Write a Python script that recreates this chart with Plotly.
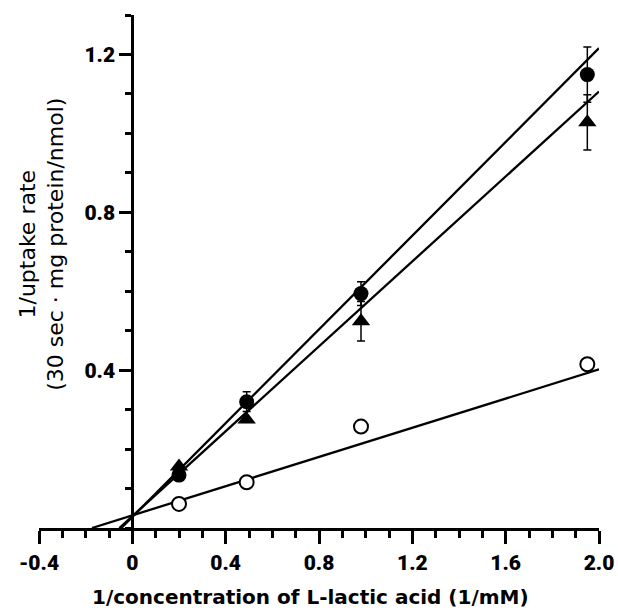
import plotly.graph_objects as go

# ---- data ----
x_conc = [0.2, 0.49, 0.98, 1.95]          # 1/[L-lactic acid] (1/mM)

filled_circle_y = [0.134, 0.320, 0.594, 1.149]
filled_circle_err = [0.0, 0.025, 0.030, 0.070]

triangle_y = [0.156, 0.275, 0.524, 1.028]
triangle_err = [0.0, 0.0, 0.050, 0.070]

open_circle_y = [0.061, 0.116, 0.257, 0.415]

# regression lines (intercept, slope)
line_intercepts = [0.028, 0.030, 0.032]
line_slopes = [0.594, 0.538, 0.185]
line_x_end = 2.0

x_tickvals = [-0.4, 0, 0.4, 0.8, 1.2, 1.6, 2.0]
x_ticktext = ["-0.4", "0", "0.4", "0.8", "1.2", "1.6", "2.0"]
y_tickvals = [0.4, 0.8, 1.2]
y_ticktext = ["0.4", "0.8", "1.2"]

x_title = "1/concentration of L-lactic acid (1/mM)"
y_title = "1/uptake rate<br>(30 sec · mg protein/nmol)"

# ---- figure ----
fig = go.Figure()

for b, m in zip(line_intercepts, line_slopes):
    x0 = -b / m
    fig.add_trace(go.Scatter(
        x=[x0, line_x_end], y=[0, b + m * line_x_end],
        mode="lines", line=dict(color="black", width=2.3),
        hoverinfo="skip", showlegend=False))

fig.add_trace(go.Scatter(
    x=x_conc, y=open_circle_y, mode="markers",
    marker=dict(symbol="circle", size=14, color="white",
                line=dict(color="black", width=2)),
    showlegend=False))

fig.add_trace(go.Scatter(
    x=x_conc, y=triangle_y, mode="markers",
    marker=dict(symbol="triangle-up", size=16, color="black"),
    error_y=dict(type="data", array=triangle_err, visible=True,
                 color="black", thickness=1.5, width=4),
    showlegend=False))

fig.add_trace(go.Scatter(
    x=x_conc, y=filled_circle_y, mode="markers",
    marker=dict(symbol="circle", size=15, color="black"),
    error_y=dict(type="data", array=filled_circle_err, visible=True,
                 color="black", thickness=1.5, width=4),
    showlegend=False))

tick_font = dict(family="Roboto", size=21, color="black", weight=900)

x_min, x_max = -0.4, 2.0
fig.update_xaxes(
    range=[x_min, x_max], domain=[0, 1], automargin=False,
    showline=True, linewidth=3, linecolor="black",
    ticks="outside", ticklen=13, tickwidth=3, tickcolor="black",
    tickvals=x_tickvals, ticktext=x_ticktext,
    tickfont=tick_font, ticklabelstandoff=1,
    minor=dict(ticks="outside", ticklen=7, tickwidth=2.5, tickcolor="black",
               dtick=0.1, tick0=0, showgrid=False),
    showgrid=False, zeroline=False)

fig.update_yaxes(
    range=[0, 1.3], anchor="free", position=(0 - x_min) / (x_max - x_min),
    automargin=False,
    showline=True, linewidth=3, linecolor="black",
    ticks="outside", ticklen=12, tickwidth=3, tickcolor="black",
    tickvals=y_tickvals, ticktext=y_ticktext,
    tickfont=tick_font,
    minor=dict(ticks="outside", ticklen=6, tickwidth=2.5, tickcolor="black",
               dtick=0.1, tick0=0, showgrid=False),
    showgrid=False, zeroline=False)

fig.add_annotation(
    text=x_title, xref="paper", yref="paper", x=0.484, y=-0.1345,
    xanchor="center", yanchor="middle", showarrow=False,
    font=dict(family="DejaVu Sans", size=20, color="black", weight=700))

fig.add_annotation(
    text=y_title, xref="paper", yref="paper", x=0.005, y=0.5536,
    xanchor="center", yanchor="middle", showarrow=False, textangle=-90,
    font=dict(family="DejaVu Sans", size=22, color="black"))

fig.update_layout(
    width=618, height=614,
    margin=dict(l=39, r=19, t=15, b=86),
    paper_bgcolor="white", plot_bgcolor="white")

fig.write_html("out.html", config={"displayModeBar": False},
               post_script="document.body.style.margin='0';"
                           "document.body.style.overflow='hidden';")
